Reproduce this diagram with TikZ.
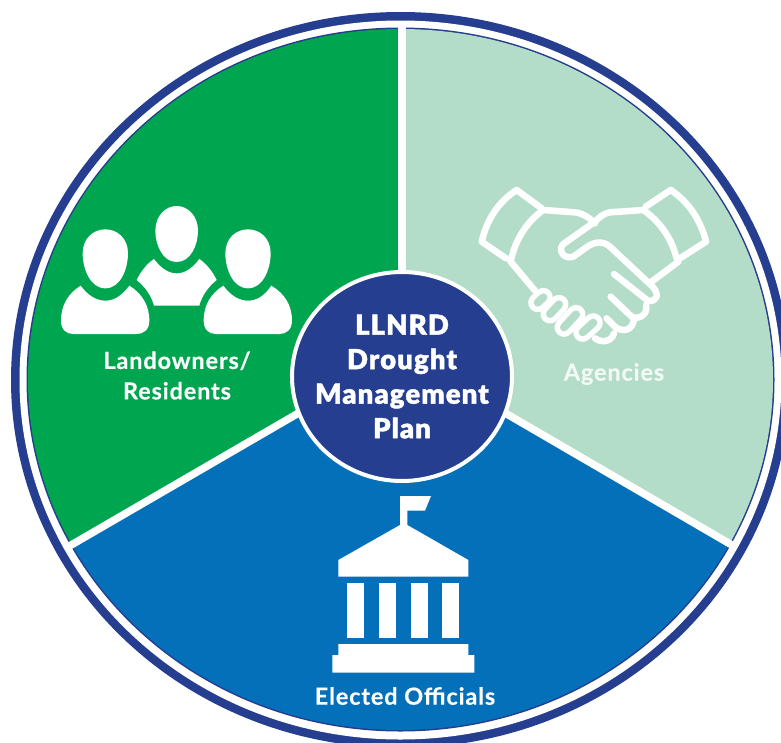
\documentclass[tikz,border=0pt]{standalone}
\usepackage{fontspec}
\usetikzlibrary{shapes.geometric}
\setmainfont{Lato}
\newfontfamily\heavyfont[LetterSpace=4,FakeBold=1.4]{Lato Black}
\newfontfamily\labelfont[LetterSpace=3.6,FakeBold=0.3]{Lato Bold}
\definecolor{ringblue}{HTML}{253E8F}
\definecolor{leafgreen}{HTML}{00A64F}
\definecolor{mint}{HTML}{B3DDC8}
\definecolor{seablue}{HTML}{0570BA}
\tikzset{
  hubnode/.style={ellipse,draw=white,fill=ringblue,line width=4pt,minimum width=220pt,minimum height=209pt,inner sep=-40pt,text=white,align=center,font=\heavyfont\fontsize{27.5}{34.5}\selectfont},
  seclabel/.style={text=white,align=center,inner sep=0pt,font=\labelfont\fontsize{23.5}{30.5}\selectfont},
  divider/.style={draw=white,line width=7.5pt},
  iconline/.style={draw=white,line width=6.5pt,line cap=round,line join=round},
  fingerout/.style={draw=white,line width=19pt,line cap=round},
  fingerin/.style={draw=mint,line width=8pt,line cap=round},
  zoomscale/.style={x=0.33333pt,y=-0.33333pt},
}
\begin{document}
\begin{tikzpicture}[x=1pt,y=-1pt]
\useasboundingbox (0,0) rectangle (781,742);
\clip (0,0) rectangle (781,742);
% ring
\fill[ringblue] (400.5,380) ellipse [x radius=389.5,y radius=368];
\fill[white] (400.5,380) ellipse [x radius=381,y radius=359.5];
\fill[ringblue] (400.5,379.5) ellipse [x radius=374,y radius=352];
% sectors
\begin{scope}
\clip (400.5,379.5) ellipse [x radius=372.5,y radius=350.5];
\fill[leafgreen] (402,353) -- (402,0) -- (0,0) -- (0,586) -- cycle;
\fill[mint] (402,353) -- (402,0) -- (781,0) -- (781,573) -- cycle;
\fill[seablue] (402,353) -- (0,586) -- (0,742) -- (781,742) -- (781,573) -- cycle;
\end{scope}
% dividers
\coordinate (hub) at (402,353);
\coordinate (endtop) at (402,24);
\coordinate (endleft) at (66,548);
\coordinate (endright) at (737,548);
\draw[divider] (hub) -- (endtop);
\draw[divider] (hub) -- (endleft);
\draw[divider] (hub) -- (endright);
% centre
\node[hubnode] (centre) at (402,376.5) {LLNRD\\Drought\\Management\\Plan};
% labels
\node[seclabel] (landowners) at (177,375.5) {Landowners/\\Residents};
\node[seclabel,opacity=0.85] (agencies) at (614,374) {Agencies};
\node[seclabel] (elected) at (405,696) {Elected Officials};
% people
\begin{scope}[shift={(40,190)},zoomscale]
\fill[white] (196,295) .. controls (150,295) and (128,235) .. (128,190) .. controls (128,145) and (160,118) .. (196,118) .. controls (232,118) and (264,145) .. (264,190) .. controls (264,235) and (242,295) .. (196,295) -- cycle;
\fill[white] (410,216) .. controls (368,216) and (346,165) .. (346,122) .. controls (346,78) and (376,48) .. (410,48) .. controls (444,48) and (474,78) .. (474,122) .. controls (474,165) and (452,216) .. (410,216) -- cycle;
\fill[white] (624,295) .. controls (578,295) and (556,235) .. (556,190) .. controls (556,145) and (588,118) .. (624,118) .. controls (660,118) and (692,145) .. (692,190) .. controls (692,235) and (670,295) .. (624,295) -- cycle;
\fill[white] (122,287) .. controls (145,318) and (170,332) .. (196,332) .. controls (222,332) and (245,318) .. (268,287) .. controls (305,310) and (328,345) .. (328,392) .. controls (328,420) and (310,432) .. (290,432) -- (100,432) .. controls (80,432) and (63,420) .. (63,392) .. controls (63,345) and (85,310) .. (122,287) -- cycle;
\fill[white] (342,207) .. controls (365,238) and (388,250) .. (410,250) .. controls (432,250) and (455,238) .. (478,207) .. controls (500,222) and (518,245) .. (530,270) .. controls (505,290) and (485,318) .. (478,347) -- (342,347) .. controls (335,318) and (315,290) .. (290,270) .. controls (302,245) and (320,222) .. (342,207) -- cycle;
\fill[white] (550,287) .. controls (573,318) and (598,332) .. (624,332) .. controls (650,332) and (673,318) .. (694,287) .. controls (733,310) and (756,345) .. (756,392) .. controls (756,420) and (738,432) .. (718,432) -- (528,432) .. controls (508,432) and (491,420) .. (491,392) .. controls (491,345) and (513,310) .. (550,287) -- cycle;
\end{scope}
% handshake
\begin{scope}[shift={(460,170)},zoomscale]
\draw[iconline] (245,115) -- (170,60) .. controls (115,95) and (80,150) .. (65,215) -- (138,265);
\draw[iconline] (557,110) -- (632,60) .. controls (685,95) and (722,150) .. (738,215) -- (660,265);
\draw[iconline] (152,275) .. controls (165,210) and (200,155) .. (250,120) -- (345,127) .. controls (370,130) and (390,145) .. (405,160);
\draw[iconline] (650,265) .. controls (635,205) and (600,155) .. (550,120) -- (450,127) .. controls (430,130) and (415,145) .. (405,155) -- (310,222) .. controls (295,235) and (305,270) .. (340,260) -- (385,228) .. controls (410,212) and (435,215) .. (452,232) -- (578,350) .. controls (600,375) and (590,395) .. (565,393) -- (462,312);
\draw[iconline] (655,275) -- (575,335);
\draw[iconline] (152,275) -- (225,362);
\draw[iconline] (558,405) .. controls (565,435) and (535,450) .. (515,440) -- (452,380);
\draw[iconline] (522,445) .. controls (520,480) and (490,490) .. (465,470) -- (440,445);
\draw[iconline] (462,490) .. controls (455,515) and (425,520) .. (405,505);
% fingers
\draw[fingerout] (233,398) -- (250,382);
\draw[fingerout] (270,432) -- (297,403);
\draw[fingerout] (312,472) -- (348,433);
\draw[fingerout] (368,487) -- (400,458);
\draw[fingerin] (233,398) -- (250,382);
\draw[fingerin] (270,432) -- (297,403);
\draw[fingerin] (312,472) -- (348,433);
\draw[fingerin] (368,487) -- (400,458);
\end{scope}
% capitol
\begin{scope}[shift={(300,480)},zoomscale]
\fill[white] (300,48) -- (393,48) -- (375,92) -- (322,92) -- (322,135) -- (505,240) -- (505,290) -- (115,290) -- (115,240) -- (300,135) -- cycle;
\fill[white] (142,308) rectangle (193,475);
\fill[white] (237,308) rectangle (288,475);
\fill[white] (332,308) rectangle (383,475);
\fill[white] (427,308) rectangle (476,475);
\fill[white] (115,492) -- (505,492) -- (505,525) -- (523,525) -- (523,578) -- (97,578) -- (97,525) -- (115,525) -- cycle;
\end{scope}
\end{tikzpicture}
\end{document}
